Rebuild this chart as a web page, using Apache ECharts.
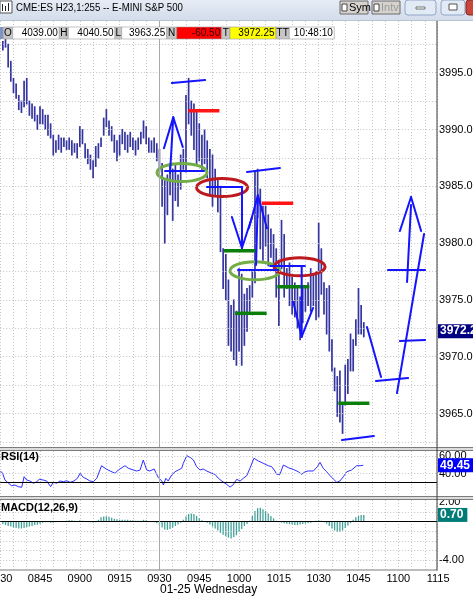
<!DOCTYPE html>
<html>
<head>
<meta charset="utf-8">
<script src="https://cdn.jsdelivr.net/npm/echarts@6.0.0/dist/echarts.min.js"></script>
<style>
html,body{margin:0;padding:0;background:#ffffff;overflow:hidden;}
#chart{width:473px;height:597px;}
</style>
</head>
<body>
<div id="chart"></div>
<script>
// ================= DATA =================
const titleText = 'CME:ES H23,1:255 -- E-MINI S&P 500';
const infoLabels = ['O', 'H', 'L', 'N', 'T', 'TT'];
const infoValues = ['4039.00', '4040.50', '3963.25', '-60.50', '3972.25', '10:48:10'];
const dateLabel = '01-25 Wednesday';
const timeTickLabels = ['0830', '0845', '0900', '0915', '0930', '0945', '1000', '1015', '1030', '1045', '1100', '1115'];
const minutesPerTick = 15;
const priceTicks = [3965, 3970, 3975, 3980, 3985, 3990, 3995];
const priceGridLevels = [3962.5, 3965, 3967.5, 3970, 3972.5, 3975, 3977.5, 3980, 3982.5, 3985, 3987.5, 3990, 3992.5, 3995, 3997.5];
const rsiTicks = [60, 40];
const rsiGridLevels = [40, 60];
const macdTicks = [2, -4];
const macdGridLevels = [1, -1, -2, -3, -4];
const sessionOpenMinute = 60;      // 09:30, minutes after 08:30
const firstBarMinute = 1;          // first 1-minute bar, minutes after 08:30

const barHigh = [3997.75,3998.25,3997.5,3996.0,3994.5,3994.0,3993.0,3992.5,3994.25,3994.5,
3992.5,3992.25,3992.0,3991.25,3992.0,3991.75,3991.25,3991.25,3990.5,3989.5,
3989.0,3989.5,3989.25,3989.25,3989.0,3989.25,3989.0,3988.75,3988.75,3990.25,
3990.0,3988.75,3988.25,3987.75,3987.25,3988.5,3988.75,3989.25,3991.0,3991.75,
3990.75,3990.25,3989.5,3989.0,3989.5,3990.0,3989.75,3989.5,3989.75,3989.25,
3989.0,3989.25,3989.75,3990.75,3990.25,3989.25,3989.0,3989.25,3988.75,3988.25,
3987.0,3985.5,3986.0,3987.0,3986.5,3987.0,3986.0,3987.75,3988.25,3993.0,
3994.5,3992.5,3992.25,3991.5,3990.5,3989.5,3990.0,3989.0,3988.25,3987.75,
3986.5,3985.5,3985.0,3979.5,3979.0,3976.75,3974.5,3975.0,3974.0,3977.75,
3977.25,3975.5,3976.0,3976.25,3977.5,3986.25,3986.5,3984.75,3983.25,3983.25,
3982.5,3981.25,3980.75,3979.5,3978.5,3982.0,3980.75,3977.75,3978.25,3977.0,
3976.5,3976.25,3975.25,3976.0,3976.0,3976.5,3977.75,3977.25,3977.5,3981.75,
3979.5,3976.5,3976.0,3976.25,3971.5,3969.0,3968.25,3968.75,3965.75,3969.25,
3969.75,3972.0,3971.5,3973.25,3976.0,3974.5,3973.0];
const barLow = [3997.0,3997.25,3995.5,3994.25,3993.25,3992.75,3991.75,3991.5,3992.0,3992.25,
3991.25,3991.0,3990.75,3990.0,3990.5,3990.5,3990.0,3989.5,3989.25,3987.75,
3988.0,3988.25,3988.0,3988.5,3988.25,3988.25,3987.75,3988.0,3987.5,3988.5,
3988.75,3987.5,3987.0,3986.5,3985.75,3986.75,3987.5,3988.5,3989.5,3990.25,
3989.5,3989.0,3988.0,3987.25,3987.75,3988.75,3988.25,3988.0,3988.5,3988.25,
3987.75,3988.25,3988.75,3989.25,3988.75,3988.0,3988.0,3988.0,3987.25,3986.25,
3983.25,3980.0,3982.5,3984.25,3982.0,3983.75,3983.25,3984.75,3986.5,3986.25,
3990.5,3989.5,3988.25,3987.0,3987.25,3986.5,3987.0,3985.75,3984.25,3983.25,
3984.25,3982.75,3979.25,3976.0,3975.0,3971.0,3970.5,3969.75,3969.25,3970.5,
3969.25,3971.0,3972.25,3974.0,3975.25,3976.5,3982.25,3979.5,3978.5,3979.75,
3978.0,3978.75,3978.0,3975.25,3972.75,3977.75,3975.25,3976.0,3974.5,3973.75,
3973.5,3972.5,3971.5,3973.0,3974.0,3974.5,3974.0,3974.5,3973.25,3973.5,
3975.5,3973.75,3972.0,3970.5,3968.75,3967.0,3964.75,3964.25,3963.25,3965.75,
3966.75,3968.75,3968.75,3971.0,3972.0,3972.0,3971.75];

const rsiPoints = [[0.1,42.9],[0.9,40.3],[1.8,32.6],[3.1,28.9],[4.3,26.1],[5.6,26.9],[6.8,25.0],[8.1,24.3],
[9.0,36.4],[10.0,32.6],[11.2,31.5],[12.5,28.9],[13.8,30.7],[14.7,33.4],[16.2,32.6],[17.5,31.5],[19.0,25.0],
[20.0,30.0],[21.3,28.9],[22.5,31.5],[23.8,30.7],[25.1,31.8],[26.3,30.0],[27.8,31.5],[29.1,34.6],[30.1,40.3],
[31.3,35.7],[32.6,33.8],[33.8,31.5],[35.1,30.7],[36.4,34.6],[38.2,48.9],[39.9,45.2],[41.4,42.9],[43.3,40.3],
[44.5,44.0],[47.0,48.9],[48.3,46.0],[50.2,44.0],[51.4,42.9],[52.7,44.0],[53.9,55.4],[55.2,44.0],[56.4,42.9],
[58.0,45.2],[59.6,35.2],[60.9,31.5],[61.5,26.9],[62.4,34.6],[63.3,31.5],[64.6,38.3],[65.9,42.1],[67.1,44.0],
[68.4,46.0],[69.0,51.7],[70.3,60.3],[71.8,58.0],[72.8,55.4],[74.0,47.8],[75.3,44.0],[76.5,45.2],[77.8,42.9],
[79.7,40.3],[80.9,39.1],[82.2,34.6],[83.5,31.5],[85.3,27.7],[86.6,24.5],[87.8,27.2],[89.1,33.4],[90.4,31.5],
[91.6,34.6],[92.9,37.5],[94.1,46.0],[95.6,57.4],[97.3,54.3],[99.1,51.7],[101.0,48.9],[102.3,47.8],[103.5,42.9],
[104.2,39.1],[105.4,39.1],[106.7,49.7],[108.6,46.6],[110.4,44.8],[112.3,42.1],[113.6,39.1],[114.9,42.1],
[116.1,42.9],[118.0,42.9],[119.5,47.8],[120.5,52.8],[121.7,46.0],[123.0,42.1],[124.3,37.5],[125.5,33.8],
[126.8,30.0],[128.0,31.5],[129.3,36.4],[130.6,42.1],[132.4,44.0],[134.3,48.9],[135.6,48.9],[136.8,49.45]];

const macdHist = [-0.25,-0.35,-0.45,-0.5,-0.6,-0.65,-0.7,-0.7,-0.65,-0.55,
-0.5,-0.45,-0.35,-0.3,-0.2,-0.1,-0.05,-0.05,-0.1,-0.1,
-0.05,0.05,0.05,0.05,0.1,0.15,0.15,0.1,0.05,0.15,
0.1,0.05,0.0,-0.05,-0.1,-0.05,0.2,0.45,0.55,0.55,
0.5,0.4,0.3,0.25,0.2,0.2,0.2,0.2,0.15,0.15,
0.1,0.1,0.1,0.2,0.15,0.05,0.0,-0.05,-0.15,-0.35,
-0.6,-0.8,-0.85,-0.75,-0.6,-0.45,-0.3,-0.1,0.2,0.55,
0.8,0.85,0.8,0.6,0.35,0.15,0.05,-0.1,-0.3,-0.5,
-0.7,-0.9,-1.15,-1.35,-1.5,-1.65,-1.75,-1.6,-1.4,-1.05,
-0.75,-0.45,-0.25,0.1,0.6,1.1,1.4,1.45,1.3,1.1,
0.85,0.6,0.35,0.1,-0.05,-0.1,-0.15,-0.2,-0.25,-0.3,
-0.35,-0.35,-0.3,-0.25,-0.2,-0.15,-0.1,0.05,0.1,0.15,
0.1,-0.05,-0.2,-0.45,-0.7,-0.9,-1.05,-1.05,-0.9,-0.65,
-0.4,-0.15,0.2,0.45,0.6,0.7,0.7];

const lastPrice = 3972.25;
const lastRsi = 49.45;
const lastMacd = 0.70;
const rsiRefLevel = 30;
const macdRefLevel = 0;

// hand-drawn annotations, [minute, price] pairs: [m1, p1, m2, p2]
const blueStrokes = [
[64.7,3994.09,77.2,3994.36],
[61.7,3988.35,65.2,3991.07],[65.2,3991.07,68.8,3988.46],[65.2,3991.07,64.0,3986.17],
[62.1,3986.35,76.8,3986.35],
[77.9,3984.94,91.1,3984.94],
[91.1,3984.94,91.1,3979.57],[87.3,3982.3,91.1,3979.57],[91.1,3979.57,94.9,3982.3],
[93.7,3981.3,97.1,3984.2],[97.1,3984.2,100.5,3981.3],[97.1,3984.2,96.4,3978.07],
[93.0,3986.26,105.4,3986.61],
[89.6,3977.63,104.7,3977.63],
[101.7,3977.98,114.8,3977.98],
[113.6,3977.98,113.6,3971.76],[110.4,3974.84,113.6,3971.76],[113.6,3971.76,117.9,3974.29],
[128.8,3962.66,140.8,3963.01],
[138.2,3972.61,143.5,3968.21],
[141.6,3967.86,153.7,3968.12],
[149.5,3966.80,159.7,3980.80],
[146.1,3977.63,160.1,3977.63],
[150.6,3971.38,160.1,3971.47],
[150.6,3981.07,154.8,3984.06],[154.8,3984.06,158.6,3981.07],[154.8,3983.35,153.3,3976.57]
];
const redLevels = [[70.9,82.6,3991.65],[98.5,110.4,3983.5]];
const greenLevels = [[84.3,96.4,3979.33],[88.5,100.4,3973.82],[104.4,116.5,3976.16],[127.4,139.1,3965.9]];
const greenRings = [[68.5,3986.21],[96.0,3977.56]];
const redRings = [[83.6,3984.89],[112.8,3977.92]];

// ================= LAYOUT / CALIBRATION =================
const X0 = 0.2, PX_PER_MIN = 2.654, AXIS_X = 437;
const XMAX = (AXIS_X - X0) / PX_PER_MIN;
const LABEL_W = 440, LABEL_XMAX = LABEL_W / PX_PER_MIN;
const MAIN_TOP = 21, MAIN_BOTTOM = 447;
const PRICE_REF = 3995, PRICE_REF_Y = 72.7, PX_PER_PT = 11.36;
const priceAt = y => PRICE_REF - (y - PRICE_REF_Y) / PX_PER_PT;
const RSI_TOP = 451, RSI_BOTTOM = 496, RSI_REF_Y = 482.3, RSI_PX = 0.877;
const rsiAt = y => rsiRefLevel + (RSI_REF_Y - y) / RSI_PX;
const MACD_TOP = 500, MACD_BOTTOM = 569.5, MACD_ZERO_Y = 521.7, MACD_PX = 9.67;
const macdAt = y => (MACD_ZERO_Y - y) / MACD_PX;
const FONT = "'Liberation Sans', Arial, sans-serif";

const bars = barHigh.map((h, i) => [firstBarMinute + i, h, barLow[i]]);
const macdData = macdHist.map((v, i) => [firstBarMinute + i, v]);

const dotted = { color: '#c4c4c4', width: 1, type: [1, 2] };

function vLine(minute) {
  return { xAxis: minute, lineStyle: { color: '#a9a9a9', width: 1, type: 'solid' }, label: { show: false } };
}
function valueBox(value, text, bg) {
  return {
    yAxis: value, lineStyle: { color: 'rgba(0,0,0,0)', width: 1 },
    label: { show: true, position: 'end', distance: 1, formatter: text, color: '#ffffff', backgroundColor: bg,
      fontFamily: FONT, fontSize: 12, fontWeight: 'bold', padding: [1, 4, 0, 2], lineHeight: 13 }
  };
}

const chart = echarts.init(document.getElementById('chart'), null, { renderer: 'canvas' });

const xData = (gi) => ({
  type: 'value', gridIndex: gi, min: 0, max: XMAX, interval: 5,
  axisLine: { show: false }, axisTick: { show: false }, axisLabel: { show: false },
  splitLine: { show: true, lineStyle: dotted }
});

// ---- frame graphics ----
const graphics = [];
graphics.push({ type: 'rect', shape: { x: 0, y: 0, width: 473, height: 20 }, z: 100,
  style: { fill: new echarts.graphic.LinearGradient(0, 0, 0, 1, [{ offset: 0, color: '#e6ecf5' }, { offset: 1, color: '#d3dceb' }]) } });
graphics.push({ type: 'rect', shape: { x: 0, y: 20, width: 473, height: 1 }, z: 100, style: { fill: '#b9c4d4' } });
graphics.push({ type: 'rect', shape: { x: 0, y: 1, width: 12, height: 12 }, z: 101, style: { fill: '#ffffff', stroke: '#555', lineWidth: 1 } });
[[2, 4, 11], [5, 6, 11], [8, 3, 11]].forEach(a => graphics.push({ type: 'line', z: 102, shape: { x1: a[0] + 0.5, y1: a[1], x2: a[0] + 0.5, y2: a[2] }, style: { stroke: '#222', lineWidth: 1 } }));
graphics.push({ type: 'text', x: 16, y: 8, z: 102, scaleX: 0.84, originX: 0, originY: 0,
  style: { text: titleText, font: "11.5px " + FONT, fill: '#000', verticalAlign: 'middle' } });
[[340, 'Sym', '#000'], [372, 'Intv', '#9a9a9a']].forEach(b => {
  graphics.push({ type: 'rect', z: 101, shape: { x: b[0], y: 1, width: 28, height: 13 }, style: { fill: '#d6d3ce', stroke: '#6b6b6b', lineWidth: 1 } });
  graphics.push({ type: 'rect', z: 102, shape: { x: b[0] + 2, y: 4, width: 5, height: 7 }, style: { fill: '#ffffff', stroke: '#444', lineWidth: 1 } });
  graphics.push({ type: 'text', z: 102, x: b[0] + 9, y: 8, style: { text: b[1], font: "11px " + FONT, fill: b[2], verticalAlign: 'middle' } });
});
[[405, 31], [441, 24]].forEach(b => {
  graphics.push({ type: 'rect', z: 101, shape: { x: b[0], y: 0, width: b[1], height: 15, r: 3 }, style: { fill: '#e2eaf5', stroke: '#8fa6c6', lineWidth: 1 } });
});
graphics.push({ type: 'rect', z: 102, shape: { x: 416, y: 7, width: 9, height: 2 }, style: { fill: '#ffffff', stroke: '#555', lineWidth: 0.8 } });
graphics.push({ type: 'rect', z: 102, shape: { x: 449, y: 4, width: 8, height: 6 }, style: { fill: '#ffffff', stroke: '#555', lineWidth: 1 } });
graphics.push({ type: 'rect', z: 101, shape: { x: 466, y: 0, width: 10, height: 15, r: 3 }, style: { fill: '#c9463d', stroke: '#8a2a24', lineWidth: 1 } });
const infoLayout = [[3.3, 9.4, 46.6, '#ffffff'], [59.3, 9, 46.7, '#ffffff'], [115, 6.7, 45, '#ffffff'],
  [166.7, 10, 45, '#ff0000'], [221.7, 8.3, 46, '#ffff00'], [276, 13.3, 45, '#ffffff']];
graphics.push({ type: 'rect', z: 100, shape: { x: 0, y: 27, width: 3.3, height: 12 }, style: { fill: '#7d95c4' } });
infoLayout.forEach((L, i) => {
  const vx = L[0] + L[1];
  graphics.push({ type: 'rect', z: 100, shape: { x: L[0], y: 27, width: L[1], height: 12 }, style: { fill: '#c6c6c6', stroke: '#9a9a9a', lineWidth: 0.6 } });
  graphics.push({ type: 'text', z: 101, x: L[0] + L[1] / 2, y: 33.5, style: { text: infoLabels[i], font: "10px " + FONT, fill: '#000', align: 'center', verticalAlign: 'middle' } });
  graphics.push({ type: 'rect', z: 100, shape: { x: vx, y: 27, width: L[2], height: 12 }, style: { fill: L[3], stroke: '#9a9a9a', lineWidth: 0.6 } });
  graphics.push({ type: 'text', z: 101, x: vx + L[2] - 1.5, y: 33.5, style: { text: infoValues[i], font: "10px " + FONT, fill: i === 3 ? '#3a0000' : '#000', align: 'right', verticalAlign: 'middle' } });
});
[[MAIN_BOTTOM, 4], [RSI_BOTTOM, 4]].forEach(s => {
  graphics.push({ type: 'rect', z: 90, shape: { x: 0, y: s[0], width: 473, height: s[1] }, style: { fill: '#dcdcdc' } });
  graphics.push({ type: 'rect', z: 91, shape: { x: 0, y: s[0], width: 473, height: 1 }, style: { fill: '#7c7c7c' } });
  graphics.push({ type: 'rect', z: 91, shape: { x: 0, y: s[0] + s[1] - 1, width: 473, height: 1 }, style: { fill: '#7c7c7c' } });
});
graphics.push({ type: 'rect', z: 91, shape: { x: 0, y: MACD_BOTTOM, width: AXIS_X, height: 1 }, style: { fill: '#7c7c7c' } });
graphics.push({ type: 'rect', z: 92, shape: { x: AXIS_X - 0.5, y: MAIN_TOP, width: 1, height: MACD_BOTTOM - MAIN_TOP + 1 }, style: { fill: '#3a3a3a' } });
graphics.push({ type: 'text', z: 95, x: 1, y: 457, style: { text: 'RSI(14)', font: "bold 11px " + FONT, fill: '#000', verticalAlign: 'middle' } });
graphics.push({ type: 'text', z: 95, x: 1, y: 508, style: { text: 'MACD(12,26,9)', font: "bold 11px " + FONT, fill: '#000', verticalAlign: 'middle' } });
graphics.push({ type: 'text', z: 95, x: 160, y: 590, style: { text: dateLabel, font: "12px " + FONT, fill: '#000', verticalAlign: 'middle' } });

const gridBase = { outerBoundsMode: 'none', containLabel: false };
const option = {
  animation: false,
  backgroundColor: '#ffffff',
  grid: [
    Object.assign({ left: X0, top: MAIN_TOP, width: AXIS_X - X0, height: MAIN_BOTTOM - MAIN_TOP }, gridBase),
    Object.assign({ left: X0, top: RSI_TOP, width: AXIS_X - X0, height: RSI_BOTTOM - RSI_TOP }, gridBase),
    Object.assign({ left: X0, top: MACD_TOP, width: AXIS_X - X0, height: MACD_BOTTOM - MACD_TOP }, gridBase),
    Object.assign({ left: X0, top: MACD_BOTTOM, width: LABEL_W, height: 1 }, gridBase)
  ],
  xAxis: [xData(0), xData(1), xData(2), {
    type: 'value', gridIndex: 3, min: 0, max: LABEL_XMAX, position: 'bottom',
    axisLine: { show: false }, axisTick: { show: false }, splitLine: { show: false },
    axisLabel: { show: true, customValues: timeTickLabels.map((_, i) => i * minutesPerTick),
      formatter: v => timeTickLabels[Math.round(v / minutesPerTick)], margin: 3,
      alignMinLabel: 'center', alignMaxLabel: 'center', hideOverlap: false,
      fontFamily: FONT, fontSize: 11, color: '#000' }
  }],
  yAxis: [
    { type: 'value', gridIndex: 0, position: 'right', min: priceAt(MAIN_BOTTOM), max: priceAt(MAIN_TOP),
      axisLine: { show: false }, axisTick: { show: false }, splitLine: { show: false },
      axisLabel: { customValues: priceTicks, formatter: v => v.toFixed(1), margin: 2, fontFamily: FONT, fontSize: 11, color: '#000' } },
    { type: 'value', gridIndex: 1, position: 'right', min: rsiAt(RSI_BOTTOM), max: rsiAt(RSI_TOP),
      axisLine: { show: false }, axisTick: { show: false }, splitLine: { show: false },
      axisLabel: { customValues: rsiTicks, formatter: v => v.toFixed(2), margin: 2, fontFamily: FONT, fontSize: 11, color: '#000' } },
    { type: 'value', gridIndex: 2, position: 'right', min: macdAt(MACD_BOTTOM), max: macdAt(MACD_TOP),
      axisLine: { show: false }, axisTick: { show: false }, splitLine: { show: false },
      axisLabel: { customValues: macdTicks, formatter: v => v.toFixed(2), margin: 2, fontFamily: FONT, fontSize: 11, color: '#000' } },
    { type: 'value', gridIndex: 3, show: false }
  ],
  graphic: graphics,
  series: [
    {
      type: 'line', xAxisIndex: 0, yAxisIndex: 0, data: [[firstBarMinute + barHigh.length - 1, lastPrice]], symbol: 'none', showSymbol: false, z: 1,
      markLine: { silent: true, symbol: 'none', animation: false,
        data: priceGridLevels.map(v => ({ yAxis: v, lineStyle: dotted, label: { show: false } }))
          .concat([vLine(sessionOpenMinute), valueBox(lastPrice, lastPrice.toFixed(2), '#000080')]) }
    },
    {
      type: 'custom', xAxisIndex: 0, yAxisIndex: 0, data: bars, encode: { x: 0, y: [1, 2] }, z: 3, clip: true,
      renderItem: (params, api) => {
        const a = api.coord([api.value(0), api.value(1)]);
        const b = api.coord([api.value(0), api.value(2)]);
        return { type: 'line', shape: { x1: a[0], y1: a[1] - 0.5, x2: b[0], y2: b[1] + 0.5 }, style: { stroke: '#3535a0', lineWidth: 1.7 } };
      }
    },
    {
      type: 'custom', xAxisIndex: 0, yAxisIndex: 0, data: greenRings.map(r => r.concat([0])).concat(redRings.map(r => r.concat([1]))),
      encode: { x: 0, y: 1 }, z: 4, silent: true,
      renderItem: (params, api) => {
        const c = api.coord([api.value(0), api.value(1)]);
        const red = api.value(2) === 1;
        return { type: 'ellipse', shape: { cx: c[0], cy: c[1], rx: red ? 25.5 : 25, ry: 9 },
          style: { fill: 'none', stroke: red ? '#bd1a1f' : '#72ad45', lineWidth: 3 } };
      }
    },
    {
      type: 'custom', xAxisIndex: 0, yAxisIndex: 0,
      data: redLevels.map(r => r.concat([1])).concat(greenLevels.map(r => r.concat([0]))),
      encode: { x: [0, 1], y: 2 }, z: 5, silent: true,
      renderItem: (params, api) => {
        const a = api.coord([api.value(0), api.value(2)]);
        const b = api.coord([api.value(1), api.value(2)]);
        return { type: 'line', shape: { x1: a[0], y1: a[1], x2: b[0], y2: b[1] },
          style: { stroke: api.value(3) === 1 ? '#ff1515' : '#0b7f0b', lineWidth: 3.5 } };
      }
    },
    {
      type: 'custom', xAxisIndex: 0, yAxisIndex: 0, data: blueStrokes, encode: { x: [0, 2], y: [1, 3] }, z: 6, silent: true,
      renderItem: (params, api) => {
        const a = api.coord([api.value(0), api.value(1)]);
        const b = api.coord([api.value(2), api.value(3)]);
        return { type: 'line', shape: { x1: a[0], y1: a[1], x2: b[0], y2: b[1] },
          style: { stroke: '#1414ff', lineWidth: 2, lineCap: 'round' } };
      }
    },
    {
      type: 'line', xAxisIndex: 1, yAxisIndex: 1, data: rsiPoints, symbol: 'none', z: 3,
      lineStyle: { color: '#2f2fff', width: 1 },
      markLine: { silent: true, symbol: 'none', animation: false,
        data: rsiGridLevels.map(v => ({ yAxis: v, lineStyle: dotted, label: { show: false } }))
          .concat([{ yAxis: rsiRefLevel, lineStyle: { color: '#000', width: 1, type: 'solid' }, label: { show: false } },
            vLine(sessionOpenMinute), valueBox(lastRsi, lastRsi.toFixed(2), '#0000ff')]) }
    },
    {
      type: 'bar', xAxisIndex: 2, yAxisIndex: 2, data: macdData, barWidth: 1.3, z: 3,
      itemStyle: { color: '#42a39a' },
      markLine: { silent: true, symbol: 'none', animation: false,
        data: macdGridLevels.map(v => ({ yAxis: v, lineStyle: dotted, label: { show: false } }))
          .concat([{ yAxis: macdRefLevel, lineStyle: { color: '#000', width: 1, type: 'solid' }, label: { show: false } },
            vLine(sessionOpenMinute), valueBox(lastMacd, lastMacd.toFixed(2), '#007c78')]) }
    }
  ]
};
chart.setOption(option);
</script>
</body>
</html>
